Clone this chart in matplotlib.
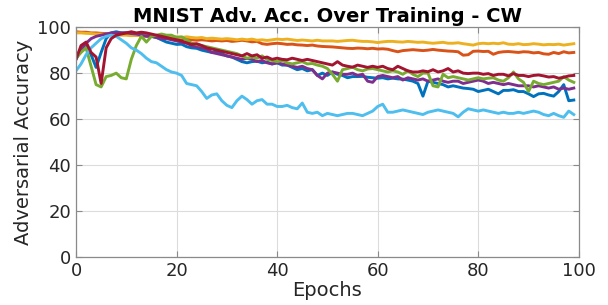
import numpy as np
import matplotlib
matplotlib.use('Agg')
import matplotlib.pyplot as plt

# Epochs 0..99
epochs = np.arange(100)

# adversarial accuracy per run
run_blue = [86, 90, 93, 88, 82.5, 89, 95, 97.5, 98, 97.5,
            97.5, 97.3, 97.0, 96.8, 96.5, 96.0, 95.5, 94.5, 93.5, 93.0,
            92.5, 92.6, 91.5, 91.0, 90.8, 90.0, 89.5, 89.0, 89.2, 88.5,
            87.5, 87.0, 86.0, 85.0, 84.5, 85.0, 85.2, 84.5, 84.8, 84.0,
            84.5, 83.5, 83.5, 82.5, 81.5, 82.0, 81.0, 81.5, 79.0, 80.0,
            79.0, 80.5, 79.5, 79.0, 78.0, 78.5, 78.5, 78.6, 78.2, 78.0,
            77.8, 78.0, 77.5, 77.8, 77.5, 77.4, 77.0, 76.5, 75.5, 70.0,
            76.5, 76.0, 75.5, 75.0, 74.0, 74.5, 74.0, 73.5, 73.3, 73.0,
            72.0, 72.5, 73.0, 72.0, 71.0, 72.5, 72.5, 72.8, 72.0, 72.0,
            71.0, 69.8, 71.0, 71.2, 70.5, 70.0, 72.0, 75.0, 68.0, 68.3]

run_orange = [98.0, 97.8, 97.8, 97.5, 97.5, 97.3, 97.2, 97.0, 97.0, 96.8,
              96.8, 96.5, 96.5, 96.3, 96.2, 96.0, 96.0, 95.8, 95.5, 95.5,
              95.2, 95.0, 94.8, 94.5, 94.3, 94.5, 94.3, 94.0, 94.2, 94.0,
              94.2, 93.8, 94.0, 94.3, 94.0, 93.6, 93.8, 92.8, 92.5, 92.8,
              93.0, 92.8, 92.5, 92.6, 92.3, 92.2, 92.0, 92.2, 91.8, 91.6,
              91.5, 91.4, 91.2, 91.0, 90.8, 90.7, 90.9, 90.8, 90.6, 90.8,
              90.5, 90.6, 90.4, 89.8, 89.3, 89.8, 90.0, 90.2, 90.0, 89.8,
              90.0, 90.3, 90.0, 89.8, 89.6, 89.5, 89.3, 87.8, 88.0, 89.5,
              89.6, 89.4, 89.5, 88.2, 89.0, 89.3, 89.4, 89.2, 89.0, 89.3,
              89.2, 88.8, 89.0, 88.4, 88.2, 89.0, 88.5, 89.3, 88.8, 89.0]

run_yellow = [97.5, 97.5, 97.3, 97.2, 97.0, 97.0, 96.8, 96.8, 96.5, 96.5,
              96.5, 96.3, 96.5, 96.2, 96.0, 96.2, 96.0, 95.8, 96.0, 95.8,
              95.8, 95.5, 95.8, 95.5, 95.3, 95.5, 95.0, 95.2, 95.0, 94.8,
              95.0, 94.8, 94.5, 94.8, 94.5, 94.8, 94.3, 94.5, 94.2, 94.5,
              94.8, 94.6, 94.8, 94.5, 94.2, 94.4, 94.2, 94.0, 94.3, 94.0,
              94.0, 94.0, 93.8, 94.0, 94.2, 94.3, 94.0, 93.8, 93.8, 93.6,
              93.3, 93.6, 93.8, 93.8, 93.6, 93.5, 93.8, 93.6, 93.4, 93.5,
              93.2, 93.0, 93.2, 93.4, 93.0, 93.0, 93.2, 92.8, 92.5, 92.2,
              92.8, 93.0, 92.8, 93.0, 92.8, 93.2, 92.6, 92.5, 92.8, 92.4,
              92.5, 92.8, 92.6, 92.3, 92.5, 92.4, 92.6, 92.2, 92.5, 92.8]

run_purple = [87.5, 90, 93, 95, 96, 96.5, 97, 97.5, 97.5, 97.5,
              97.5, 97.2, 97.0, 96.5, 96.0, 96.0, 95.5, 95.0, 95.0, 94.5,
              94.0, 93.5, 93.0, 92.0, 91.5, 91.0, 90.5, 89.0, 88.5, 88.0,
              87.5, 87.0, 86.5, 86.0, 86.4, 86.0, 85.0, 85.5, 84.5, 84.0,
              84.5, 84.0, 83.5, 83.0, 82.5, 83.0, 82.0, 81.5, 79.0, 77.5,
              80.0, 80.5, 80.0, 79.5, 79.5, 80.0, 79.0, 79.5, 76.5, 76.0,
              78.5, 79.0, 78.5, 78.0, 78.5, 77.0, 78.0, 77.5, 77.0, 77.5,
              76.5, 77.0, 77.5, 76.5, 76.0, 76.5, 76.5, 75.5, 76.0, 76.5,
              77.0, 76.5, 75.5, 76.0, 75.5, 75.0, 75.5, 75.0, 74.5, 74.5,
              74.5, 74.0, 74.5, 74.0, 73.5, 74.0, 73.0, 73.5, 73.0, 73.5]

run_green = [86.5, 89.0, 91.0, 83.0, 75.0, 74.0, 78.5, 79.0, 80.0, 78.0,
             77.5, 86.0, 92.0, 96.0, 93.5, 96.0, 96.5, 97.0, 96.5, 96.5,
             95.5, 95.8, 94.5, 93.0, 92.5, 92.0, 91.5, 91.0, 90.5, 90.0,
             89.5, 89.0, 88.5, 87.5, 86.5, 87.0, 86.5, 87.5, 86.0, 85.5,
             85.0, 85.5, 84.5, 84.0, 84.5, 85.0, 84.0, 84.2, 83.5, 83.0,
             82.0, 79.5, 76.5, 81.5, 82.0, 82.6, 81.5, 81.0, 81.8, 82.0,
             81.5, 81.0, 80.5, 81.0, 80.5, 79.5, 81.0, 79.5, 78.5, 80.0,
             80.0, 74.5, 74.0, 79.5, 78.0, 78.5, 78.0, 77.5, 77.0, 77.5,
             78.0, 77.5, 77.8, 78.0, 77.0, 76.5, 78.0, 80.5, 77.5, 76.0,
             72.0, 76.5, 75.5, 75.0, 75.5, 76.0, 76.5, 78.5, 77.0, 76.0]

run_lightblue = [81, 84, 88, 91, 93, 95, 96, 96.5, 96, 94.5,
                 93, 91, 90, 88.5, 86.5, 85, 84.5, 83, 81.5, 80.5,
                 80, 79, 75.5, 75, 74.5, 72, 69, 70.5, 71, 68,
                 66, 65, 68, 70, 68.5, 66.5, 68, 68.5, 66.5, 66.5,
                 65.5, 65.5, 66, 65, 64.5, 67, 63, 62.5, 63, 61.5,
                 62.5, 62.0, 61.5, 62.0, 62.5, 62.5, 62.0, 61.5, 62.5, 63.5,
                 65.5, 66.5, 63, 63, 63.5, 64, 63.5, 63, 62.5, 62,
                 63, 63.5, 64, 63.5, 63, 62.5, 61, 63, 64.5, 64,
                 63.5, 64, 63.5, 63, 62.5, 63, 62.5, 62.5, 63, 62.5,
                 63, 63.5, 63, 62, 61.5, 62.5, 61.5, 60.8, 63.5, 62]

run_darkred = [86, 92, 93.5, 89, 87, 75.5, 91, 95, 96.5, 97,
               97.5, 98, 97.5, 97.8, 97.5, 97.0, 96.5, 96.0, 95.5, 95.0,
               94.5, 94.0, 93.2, 92.5, 92.8, 92.0, 91.0, 90.5, 90.0, 89.5,
               89.0, 88.5, 88.0, 87.5, 88.5, 87.5, 88.0, 86.5, 87.0, 86.0,
               86.5, 86.0, 85.8, 86.5, 86.0, 85.5, 86.0, 85.5, 85.0, 84.5,
               84.0, 83.5, 85.0, 83.5, 83.0, 82.6, 83.5, 83.0, 82.5, 83.0,
               82.5, 83.0, 82.0, 81.5, 83.0, 82.0, 81.0, 80.5, 80.5, 81.0,
               80.6, 81.5, 80.5, 81.0, 82.0, 80.5, 81.0, 80.0, 79.8, 80.0,
               80.0, 79.5, 79.8, 79.0, 79.5, 79.5, 78.8, 79.8, 79.0, 79.0,
               78.5, 79.0, 79.2, 78.8, 78.3, 78.5, 77.8, 78.2, 78.8, 79.0]

runs = [run_blue, run_orange, run_yellow, run_purple, run_green, run_lightblue, run_darkred]
colors = ['#0072BD', '#D95319', '#EDB120', '#7E2F8E', '#77AC30', '#4DBEEE', '#A2142F']

fig = plt.figure(figsize=(6.08, 3.05), dpi=100)
ax = fig.add_axes([0.125, 0.157, 0.827, 0.754])

for r, c in zip(runs, colors):
    ax.plot(epochs, r, color=c, linewidth=2.1)

ax.set_xlim(0, 100)
ax.set_ylim(0, 100)
ax.set_xticks([0, 20, 40, 60, 80, 100])
ax.set_yticks([0, 20, 40, 60, 80, 100])
ax.grid(True, color='#dcdcdc', linewidth=0.8)
ax.set_axisbelow(True)
for s in ax.spines.values():
    s.set_color('#8a8a8a')
    s.set_linewidth(0.9)
ax.tick_params(direction='in', top=True, right=True, length=4, color='#8a8a8a',
               labelsize=13, labelcolor='#262626')

ax.set_xlabel('Epochs', fontsize=14, color='#262626', labelpad=1)
ax.set_ylabel('Adversarial Accuracy', fontsize=14, color='#262626', labelpad=3)
ax.set_title('MNIST Adv. Acc. Over Training - CW', fontsize=14, fontweight='bold', pad=4)

fig.savefig('out.png', dpi=100)
